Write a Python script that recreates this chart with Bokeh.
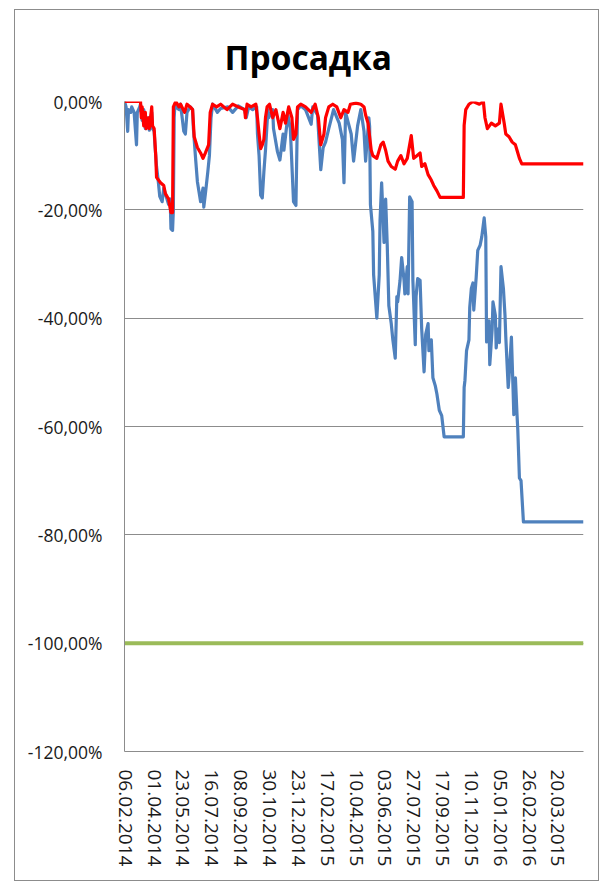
from bokeh.plotting import figure
from bokeh.models import Range1d, FixedTicker
from bokeh.embed import file_html
from bokeh.resources import INLINE

# ---- data (x = trading-day index, y = drawdown in %) ----
x_tick_labels = ["06.02.2014", "01.04.2014", "23.05.2014", "16.07.2014", "08.09.2014",
                 "30.10.2014", "23.12.2014", "17.02.2015", "10.04.2015", "03.06.2015",
                 "27.07.2015", "17.09.2015", "10.11.2015", "05.01.2016", "26.02.2016",
                 "20.03.2015"]
x_tick_days = [1, 37, 73, 109, 145, 181, 217, 253, 289, 325, 361, 397, 433, 469, 505, 541]

y_ticks = [0, -20, -40, -60, -80, -100, -120]
y_tick_labels = ["0,00%", "-20,00%", "-40,00%", "-60,00%", "-80,00%", "-100,00%", "-120,00%"]

blue_day = [0, 2, 4, 5, 8, 9, 12, 15, 16, 19, 20, 22, 24, 26, 29, 31, 34, 35, 37,
            38, 40, 42, 44, 47, 49, 52, 55, 57, 58, 60, 61, 62, 63,
            64, 68, 70, 74, 76, 78, 82, 85, 86, 89, 91, 95, 98, 99, 101, 104, 106, 108, 110,
            116, 120, 129, 135, 142, 150, 152, 155, 160, 165,
            166, 168, 170, 172, 174, 176, 179, 180, 185, 186, 191, 194, 198, 199, 204, 207,
            211, 214, 216, 220, 226, 233, 235, 241, 245, 248, 251, 255, 261, 268, 272, 274,
            276, 283, 286, 291, 295, 299, 301, 305, 306,
            307, 310, 311, 315, 318, 319, 321, 322, 324, 326, 328, 330, 333, 335, 338, 340,
            341, 344, 346, 349, 350, 353, 354, 356, 359, 360, 363, 364, 366, 369, 371, 374,
            376, 379, 380, 383, 385, 388, 390, 393, 396, 399, 423,
            424, 425, 427, 430, 431, 433, 435, 436, 439, 441, 444, 446, 449, 451, 452, 455,
            456, 459, 460, 463, 464, 466, 468, 470, 473, 475, 476, 479, 480, 483, 485, 486,
            488, 490, 491, 493, 495, 498, 573]
blue_dd = [0, -1, -5.5, -1.5, -2, -1, -2, -8, -2, -1, -0.5, -3.5, -1.5, -5, -3, -5.3, -2, -5, -5.5,
           -8, -12, -14.5, -17.5, -18.5, -16, -17.5, -19, -18, -23.5, -23.8, -20, -3, -0.5,
           -1, -1.5, -0.5, -5.5, -6, -2, -1, -1.5, -5, -11, -14.8, -18.5, -16, -19.5, -17, -13, -10, -3, -0.5,
           -2, -1.3, -1, -2, -0.8, -1.5, -3, -1, -1.5, -1,
           -6, -10, -17.3, -17.8, -13, -9, -1.5, -3, -1.5, -5, -9.3, -10.8, -6, -9, -2.5, -5,
           -18.5, -19.2, -1.5, -0.8, -1.5, -4.2, -1, -2.5, -12.6, -8.5, -7.5, -5, -1.5, -4, -7, -15,
           -2, -6, -11, -4.5, -1.5, -5.5, -11, -3, -4.6,
           -19, -24, -32, -40, -32, -22, -15, -18.5, -26, -18, -26.5, -37.7, -41, -44, -47.4, -36,
           -37, -33, -28.8, -33, -35.5, -30.5, -35.5, -17.6, -18.5, -33, -44.9, -36, -32.7, -33, -42, -49.9,
           -43, -41, -46, -44, -51, -52.5, -54, -57, -58, -61.9, -61.9,
           -52.8, -51.5, -46, -44, -38, -34.5, -33.5, -38.5, -32.5, -27.5, -26.5, -25, -21.5, -25, -44.4, -40.5,
           -48.6, -42, -37, -39.5, -45.5, -42, -44.5, -30.5, -34.5, -39.5, -43.5, -52.8, -51, -43.5, -52.8, -57.8,
           -51, -57.8, -60.7, -69.5, -70, -77.6, -77.6]

red_day = [0, 20, 21, 22, 24, 26, 27, 30, 31, 34, 35, 37, 39, 40, 45, 49, 51, 55, 58, 60, 61,
           64, 68, 70, 75, 78, 82, 85, 87, 91, 95, 98, 101, 105, 107, 110,
           115, 120, 128, 135, 142, 150, 151, 153, 158, 164,
           166, 168, 170, 172, 174, 176, 178, 181, 185, 189, 194, 198, 201, 205, 209, 211, 214,
           216, 220, 226, 233, 238, 242, 245, 249, 251, 255, 260, 265, 270, 274, 279, 282,
           289, 295, 299, 301, 304, 308, 310, 315, 320, 323, 326, 329, 333, 338, 341, 345,
           349, 353, 358, 361, 365, 369, 371, 375, 379, 383, 386, 390, 394, 423,
           424, 426, 430, 435, 443, 448, 450, 453, 458, 463, 468, 470, 474, 476, 480, 484,
           488, 490, 493, 496, 573]
red_dd = [0, 0, -3, -1, -4.5, -2, -5, -3, -5, -1, -4.5, -5, -10, -14, -15, -15.5, -17, -18, -20.5, -20.5, -1,
          0, -1, -0.5, -2, -0.5, -1, -1.5, -6.5, -8.5, -9.5, -10.5, -9.5, -8, -2, -0.5,
          -1, -0.5, -1.5, -0.5, -1, -1.5, -3, -0.5, -1, -0.5,
          -3, -6, -8.7, -8, -7, -3, -1, -0.5, -3, -1.5, -5, -2, -4, -1, -3, -7, -6,
          -1, -0.5, -1, -2, -0.5, -3, -8, -6, -3, -1, -0.5, -1, -3, -1.5, -2, -0.5,
          -0.3, -0.5, -1, -2.5, -4, -9, -10, -10.5, -8, -7.5, -9, -11, -12, -12.5, -11, -10,
          -11.5, -10.5, -6.3, -10.5, -10, -9.5, -12, -11.5, -13.5, -14.5, -15.5, -16.5, -17.7, -17.7,
          -4.4, -1.5, -0.5, 0, -0.5, 0, -3, -5, -4, -4.5, -4, -0.5, -4, -6, -6.5, -7.5,
          -8, -9, -10.5, -11.5, -11.5]

green_day = [0, 573]
green_dd = [-100, -100]

title_text = "Просадка"

# ---- figure ----
p = figure(width=585, height=872,
           x_range=Range1d(0, 573), y_range=Range1d(-120, 0),
           output_backend="svg", toolbar_location=None,
           min_border_left=109, min_border_right=17,
           min_border_top=91, min_border_bottom=131)

p.styles = {"border": "1px solid #8c8c8c", "margin-left": "14px", "margin-top": "9px"}

p.title.text = title_text
p.title.text_font = "Open Sans"
p.title.text_font_size = "33.5px"
p.title.text_font_style = "bold"
p.title.text_color = "#000000"
p.title.align = "left"
p.title.offset = 100
p.title.standoff = 43

p.background_fill_color = "white"
p.border_fill_color = "white"
p.outline_line_color = None

# axes
p.xaxis.ticker = FixedTicker(ticks=x_tick_days)
p.xaxis.major_label_overrides = {d: s for d, s in zip(x_tick_days, x_tick_labels)}
p.xaxis.major_label_orientation = "vertical"
p.yaxis.ticker = FixedTicker(ticks=y_ticks)
p.yaxis.major_label_overrides = {t: s for t, s in zip(y_ticks, y_tick_labels)}

for ax in (p.xaxis[0], p.yaxis[0]):
    ax.axis_line_color = "#8c8c8c"
    ax.axis_line_width = 1
    ax.major_tick_line_color = None
    ax.minor_tick_line_color = None
    ax.major_label_text_font = "Open Sans"
    ax.major_label_text_color = "#1a1a1a"
p.yaxis.major_label_text_font_size = "17.5px"
p.xaxis.major_label_text_font_size = "19px"
p.yaxis.major_label_standoff = 16
p.xaxis.major_label_standoff = 12

p.xgrid.grid_line_color = None
p.ygrid.ticker = FixedTicker(ticks=y_ticks)
p.ygrid.grid_line_color = "#8c8c8c"
p.ygrid.grid_line_width = 1

# series
p.line(blue_day, blue_dd, line_color="#4F81BD", line_width=3.2, line_join="round")
p.line(red_day, red_dd, line_color="#FF0000", line_width=3.2, line_join="round")
p.line(green_day, green_dd, line_color="#9BBB59", line_width=4)

open("out.html", "w").write(file_html(p, INLINE))
